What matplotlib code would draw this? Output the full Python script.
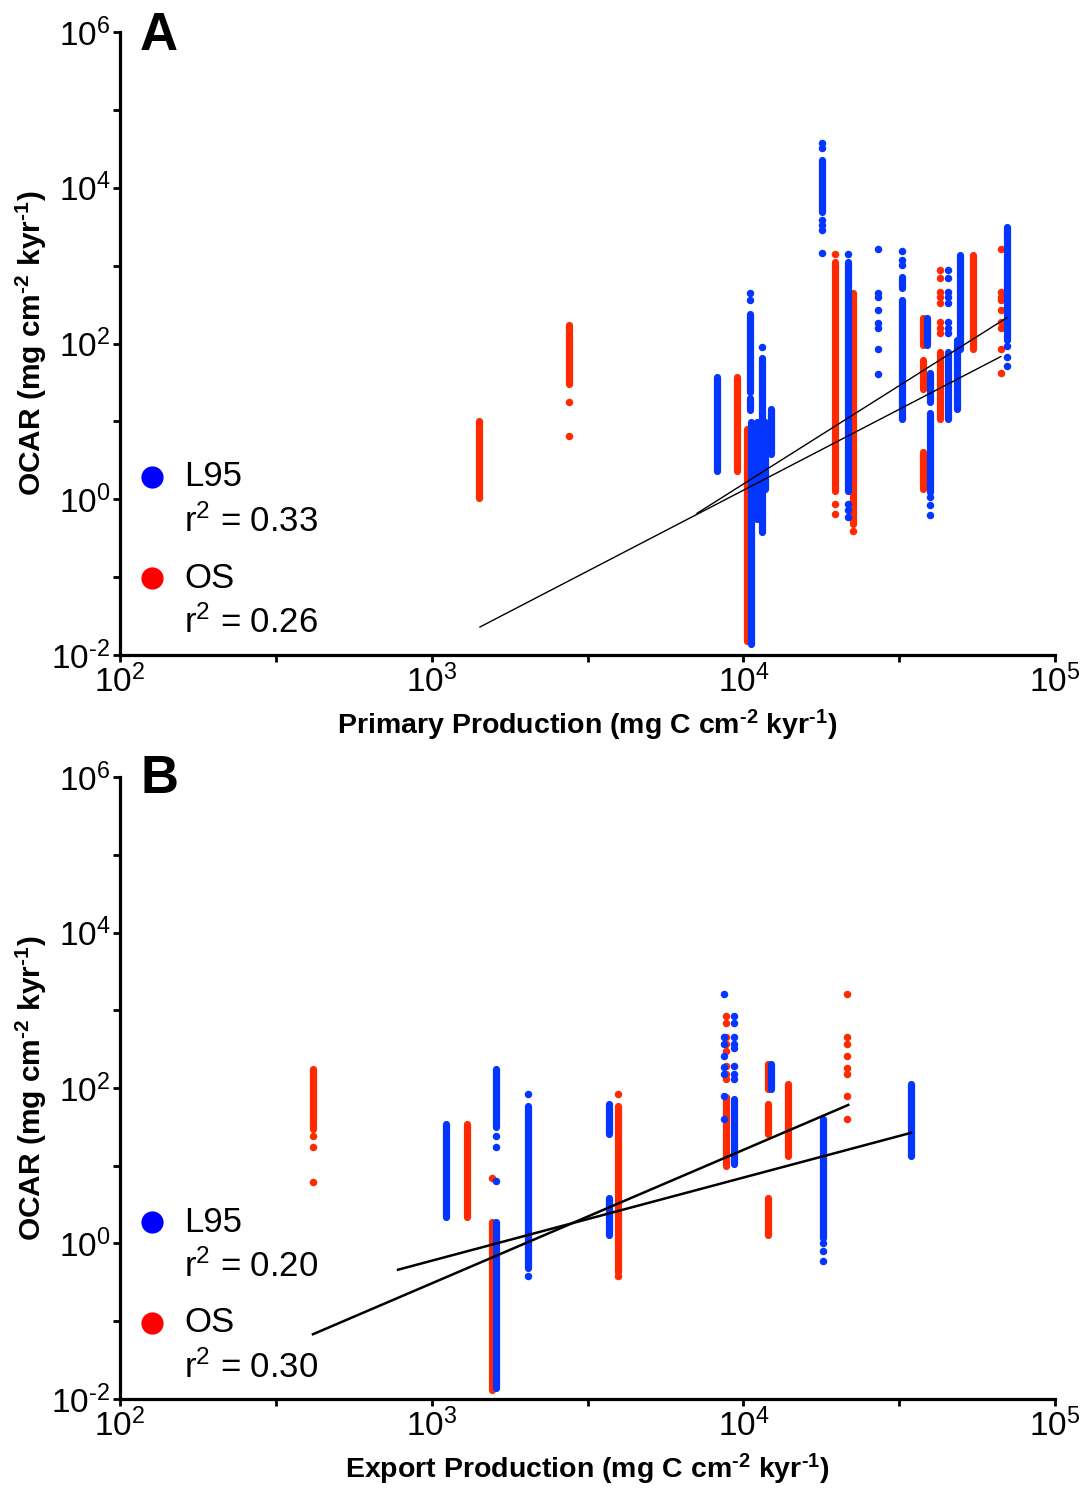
import matplotlib
matplotlib.use("Agg")
import matplotlib.pyplot as plt

plt.rcParams['font.family'] = 'Liberation Sans'
plt.rcParams['mathtext.default'] = 'regular'

BLUE = '#0536ff'
RED = '#ff2a00'
HY = '\u2010'  # short hyphen used in the exponents

# axis ticks
x_ticks = [1e2, 10**2.5, 1e3, 10**3.5, 1e4, 10**4.5, 1e5]
x_labels = ['$10^{2}$', '', '$10^{3}$', '', '$10^{4}$', '', '$10^{5}$']
y_ticks = [1e-2, 1e-1, 1e0, 1e1, 1e2, 1e3, 1e4, 1e5, 1e6]
y_labels = ['$10^{' + HY + '2}$', '', '$10^{0}$', '', '$10^{2}$', '', '$10^{4}$', '', '$10^{6}$']

# ---- panel A : primary production ----
# dense runs of points (x, lowest y, highest y)
a_l95_run_x = [8220, 10500, 10500, 10600, 11070, 11720, 11480, 12270, 17870, 21680,
               32300, 32300, 38800, 39700, 39700, 45300, 49500, 48400, 70100]
a_l95_run_lo = [2.3, 23.5, 14, 0.0138, 0.56, 1.34, 0.38, 3.8, 4920, 1.27,
                10.6, 522, 97, 1.23, 17.5, 10.6, 84, 14.3, 112]
a_l95_run_hi = [37, 236, 20, 9.7, 9.7, 9.7, 66, 14.3, 22900, 1125,
                366, 722, 215, 13, 42, 77, 1380, 112, 3160]
a_l95_pt_x = [10500, 10500, 11480,
              17870, 17870, 17870, 17870, 17870, 17870,
              21680, 21680, 21680, 21680,
              27000, 27000, 27000, 27000, 27000, 27000, 27000, 27000,
              32300, 32300, 32300,
              39700, 39700, 39700,
              45300, 45300, 45300, 45300, 45300, 45300, 45300, 45300,
              70100, 70100, 70100]
a_l95_pt_y = [451, 366, 89,
              37800, 32600, 3890, 3360, 2900, 1470,
              1425, 0.86, 0.72, 0.6,
              1650, 451, 390, 273, 186, 156, 84, 41,
              1556, 1190, 1030,
              1.06, 0.84, 0.62,
              889, 702, 464, 390, 336, 191, 160, 138,
              92, 68, 51]

a_os_run_x = [1420, 2755, 9530, 10300, 19680, 22500, 37700, 37700, 37700, 42800, 54500]
a_os_run_lo = [1.05, 30, 2.3, 0.015, 1.27, 0.48, 97, 26, 1.34, 10.6, 84]
a_os_run_hi = [10, 175, 37, 7.9, 1125, 451, 215, 62, 4.0, 77, 1380]
a_os_pt_x = [2755, 2755,
             19680, 19680, 19680, 22500,
             42800, 42800, 42800, 42800, 42800, 42800, 42800, 42800,
             67000, 67000, 67000, 67000, 67000, 67000, 67000, 67000, 67000]
a_os_pt_y = [17.5, 6.4,
             1425, 0.86, 0.64, 0.39,
             889, 702, 464, 390, 336, 191, 160, 138,
             1650, 464, 400, 366, 273, 191, 160, 84, 42]

a_fit_l95_x = [7100, 70100]
a_fit_l95_y = [0.66, 215]
a_fit_os_x = [1429, 67000]
a_fit_os_y = [0.0229, 68]

# ---- panel B : export production ----
b_l95_run_x = [1110, 1610, 1610, 2040, 3705, 3705, 9330, 12270, 18000, 34500]
b_l95_run_lo = [2.2, 31.6, 0.0138, 0.48, 25.7, 1.27, 10.6, 97, 1.16, 13.4]
b_l95_run_hi = [34.5, 175, 1.9, 58.7, 62, 3.8, 72, 203, 40, 112]
b_l95_pt_x = [1610, 1610, 1610, 2040, 2040,
              8670, 8670, 8670, 8670, 8670, 8670, 8670, 8670,
              9330, 9330, 9330, 9330, 9330, 9330, 9330, 9330,
              18000, 18000, 18000]
b_l95_pt_y = [24, 17.5, 6.4, 84, 0.38,
              1600, 451, 366, 257, 186, 151, 79, 40,
              837, 681, 451, 366, 330, 191, 151, 130,
              1.0, 0.79, 0.59]

b_os_run_x = [416, 1297, 1560, 3965, 8790, 12000, 12000, 12000, 13900]
b_os_run_lo = [29.8, 2.2, 0.013, 0.43, 10, 97, 25.7, 1.27, 13.4]
b_os_run_hi = [175, 34.5, 1.9, 58.7, 77, 203, 62, 3.8, 112]
b_os_pt_x = [416, 416, 416, 1560, 3965, 3965,
             8790, 8790, 8790, 8790, 8790, 8790, 8790, 8790,
             21500, 21500, 21500, 21500, 21500, 21500, 21500, 21500]
b_os_pt_y = [24, 17.5, 6.2, 6.9, 84, 0.38,
             837, 681, 451, 366, 298, 191, 151, 130,
             1600, 451, 366, 257, 180, 151, 79, 40]

b_fit_l95_x = [780, 34500]
b_fit_l95_y = [0.46, 26.5]
b_fit_os_x = [416, 21700]
b_fit_os_y = [0.068, 60.5]

r2_a = ['0.33', '0.26']
r2_b = ['0.20', '0.30']

fig = plt.figure(figsize=(10.84, 14.90), dpi=100)


def px(x, y):
    return x / 1084, 1 - y / 1490


def draw_panel(ax, runs, pts, fits, fit_lw, xlabel):
    # red first, blue on top
    order = [(runs[1], pts[1], RED), (runs[0], pts[0], BLUE)]
    for (rx, lo, hi), (ptx, pty), col in order:
        ax.vlines(rx, lo, hi, colors=col, linewidth=5.2, capstyle='round', zorder=2)
        ax.plot(ptx, pty, 'o', color=col, markersize=5.4, markeredgewidth=0, zorder=2)
    for fx, fy in fits:
        ax.plot(fx, fy, color='black', linewidth=fit_lw, zorder=3)
    ax.set_xscale('log')
    ax.set_yscale('log')
    ax.set_xlim(1e2, 1e5)
    ax.set_ylim(1e-2, 1e6)
    ax.set_xticks(x_ticks)
    ax.set_xticklabels(x_labels)
    ax.set_yticks(y_ticks)
    ax.set_yticklabels(y_labels)
    ax.minorticks_off()
    ax.tick_params(direction='out', length=5, width=2, labelsize=24, pad=2)
    for s in ['top', 'right']:
        ax.spines[s].set_visible(False)
    for s in ['left', 'bottom']:
        ax.spines[s].set_linewidth(2.3)
    ax.set_xlabel(xlabel, fontsize=20.5, fontweight='bold', labelpad=6)
    ax.set_ylabel('OCAR (mg cm$^{' + HY + '2}$ kyr$^{' + HY + '1}$)',
                  fontsize=21.5, fontweight='bold', labelpad=2)


axA = fig.add_axes([0.1107, 0.5604, 0.8626, 0.4181])
draw_panel(axA,
           [(a_l95_run_x, a_l95_run_lo, a_l95_run_hi), (a_os_run_x, a_os_run_lo, a_os_run_hi)],
           [(a_l95_pt_x, a_l95_pt_y), (a_os_pt_x, a_os_pt_y)],
           [(a_fit_l95_x, a_fit_l95_y), (a_fit_os_x, a_fit_os_y)], 1.0,
           'Primary Production (mg C cm$^{' + HY + '2}$ kyr$^{' + HY + '1}$)')

axB = fig.add_axes([0.1107, 0.0611, 0.8626, 0.4174])
draw_panel(axB,
           [(b_l95_run_x, b_l95_run_lo, b_l95_run_hi), (b_os_run_x, b_os_run_lo, b_os_run_hi)],
           [(b_l95_pt_x, b_l95_pt_y), (b_os_pt_x, b_os_pt_y)],
           [(b_fit_l95_x, b_fit_l95_y), (b_fit_os_x, b_fit_os_y)], 1.8,
           'Export Production (mg C cm$^{' + HY + '2}$ kyr$^{' + HY + '1}$)')

# panel letters
fig.text(*px(140, 50), 'A', fontsize=38, fontweight='bold', va='baseline')
fig.text(*px(140, 793), 'B', fontsize=38, fontweight='bold', va='baseline')

# legends with r^2 values
for y0, r2 in [(477, r2_a), (1222, r2_b)]:
    for k, (name, col) in enumerate([('L95', '#0000ff'), ('OS', '#ff0000')]):
        yy = y0 + k * 101
        fig.add_artist(plt.Line2D([152 / 1084], [1 - yy / 1490], marker='o', markersize=16,
                                  color=col, markeredgewidth=0, linestyle=''))
        fig.text(*px(184, yy), name, fontsize=25, va='center')
        fig.text(*px(184, yy + 45), 'r$^{2}$ = ' + r2[k], fontsize=25, va='center')

fig.savefig('out.png', dpi=100)
